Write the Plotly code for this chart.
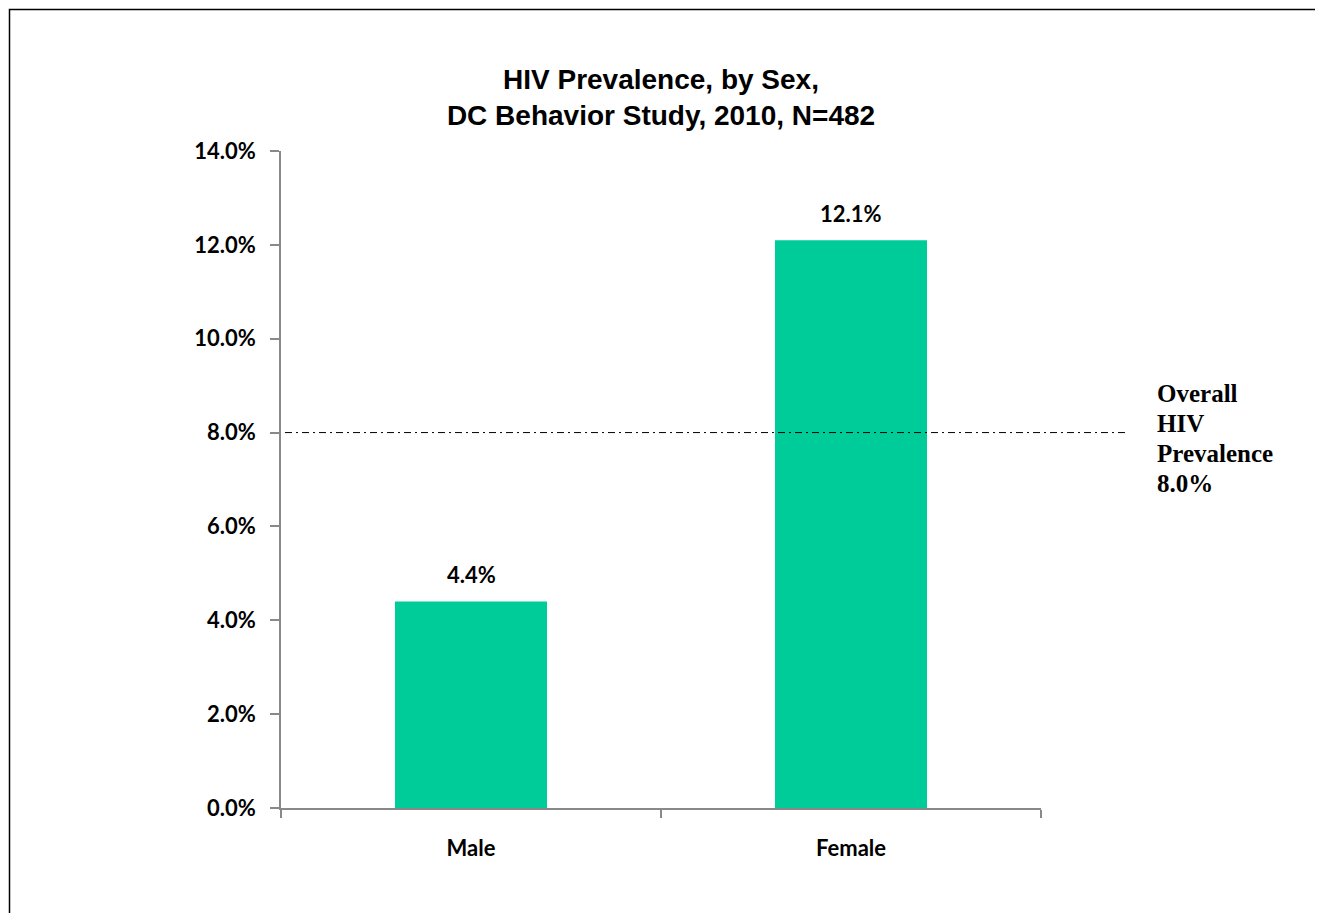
import plotly.graph_objects as go

categories = ["Male", "Female"]
values = [4.4, 12.1]
value_labels = ["4.4%", "12.1%"]
overall = 8.0
overall_lines = ["Overall", "HIV", "Prevalence", "8.0%"]
y_ticks = [0, 2, 4, 6, 8, 10, 12, 14]
y_tick_labels = ["0.0%", "2.0%", "4.0%", "6.0%", "8.0%", "10.0%", "12.0%", "14.0%"]
title_text = "HIV Prevalence, by Sex,<br>DC Behavior Study, 2010, N=482"

# page has an 8px body margin; work in figure coordinates = page - 8
OFF = 8
W, H = 1323 - OFF, 913 - OFF
pw, ph = 760, 657
L, T = 281 - OFF, 151 - OFF
R, B = W - L - pw, H - T - ph

def px(xp):
    return (xp - OFF - L) / pw

def py(yp):
    return (T + ph - (yp - OFF)) / ph

tick_font = dict(family="Lato", size=22, color="black", weight="bold")

fig = go.Figure()
fig.add_trace(go.Bar(x=categories, y=values, marker=dict(color="#00CC99", line=dict(width=0)),
                     width=0.4, hoverinfo="skip"))

for c, v, t in zip(categories, values, value_labels):
    fig.add_annotation(x=c, y=v, xref="x", yref="y", text=t, showarrow=False,
                       yanchor="middle", yshift=27, font=tick_font)

fig.add_shape(type="line", xref="x domain", yref="y", x0=px(285), x1=px(1125),
              y0=overall, y1=overall, line=dict(color="black", width=1, dash="7px,4px,2px,4px"))

for i, line in enumerate(overall_lines):
    fig.add_annotation(xref="paper", yref="paper", x=px(1155), y=py(393),
                       xanchor="left", yanchor="middle", align="left", showarrow=False,
                       yshift=-30 * i, text=line,
                       font=dict(family="Liberation Serif", size=25, color="black", weight="bold"))

# outer border
fig.add_shape(type="rect", xref="paper", yref="paper",
              x0=px(9.5), x1=px(1319), y0=py(930), y1=py(9.5),
              line=dict(color="black", width=1.5))

fig.update_layout(
    width=W, height=H,
    margin=dict(l=L, r=R, t=T, b=B, autoexpand=False),
    plot_bgcolor="white", paper_bgcolor="white",
    showlegend=False,
    title=dict(text=title_text, x=(L + pw / 2) / W, xanchor="center",
               y=1 - 80.5 / H, yanchor="middle", yref="container",
               font=dict(family="Liberation Sans", size=28, color="black", weight="bold")),
    xaxis=dict(range=[-0.5, 1.5], showline=True, linecolor="#898989", linewidth=1.5,
               ticks="outside", tickson="boundaries", ticklen=8, tickcolor="#898989", tickwidth=1.5,
               tickfont=tick_font, ticklabelstandoff=20, showgrid=False, zeroline=False),
    yaxis=dict(range=[0, 14], tickvals=y_ticks, ticktext=y_tick_labels, showline=True,
               linecolor="#898989", linewidth=1.5, ticks="outside", ticklen=9,
               tickcolor="#898989", tickwidth=1.5, tickfont=tick_font, ticklabelstandoff=10,
               showgrid=False, zeroline=False),
)

fig.write_html("out.html")
